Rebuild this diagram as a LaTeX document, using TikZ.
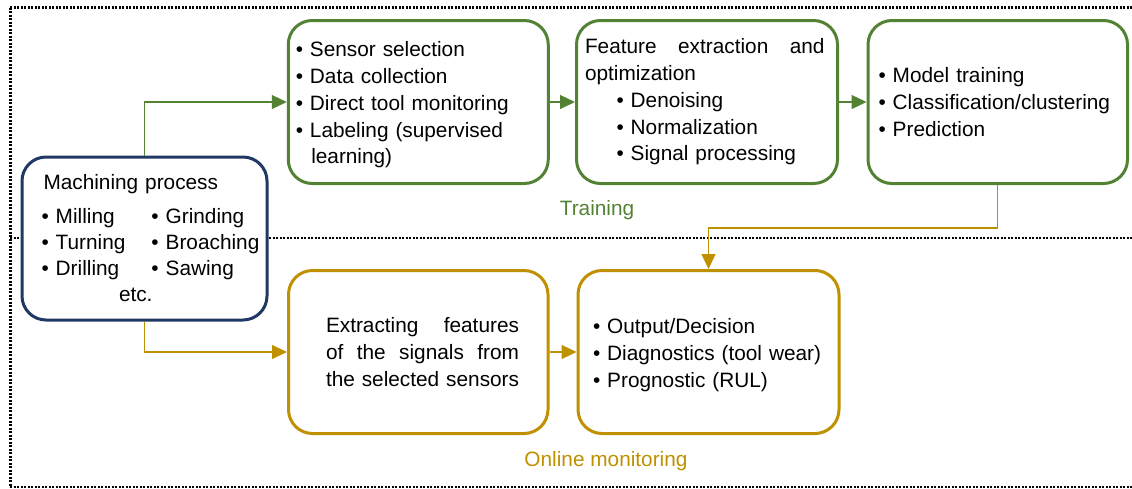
\documentclass[tikz,border=0pt]{standalone}
\usepackage{fontspec}
\setmainfont{Liberation Sans}
\usetikzlibrary{arrows.meta}
\definecolor{cgreen}{HTML}{548235}
\definecolor{cgold}{HTML}{BF9000}
\definecolor{cblue}{HTML}{203864}
\begin{document}
\begin{tikzpicture}[x=1pt,y=-1pt,
  every node/.style={font=\fontsize{20.8}{26.75}\selectfont},
  box/.style={draw, line width=3pt, rounded corners=24pt, fill=white,
    inner sep=0pt, align=left, anchor=center},
  conn/.style={line width=1.2pt, -{Triangle[length=15pt,width=14pt]}},
  frame/.style={line width=2.3pt, dash pattern=on 2.2pt off 1.3pt}]
\useasboundingbox (0,0) rectangle (1132,488);
% dotted frame
\draw[frame] (10,7.5) -- (1132,7.5);
\draw[frame] (10.5,7.5) -- (10.5,487);
\draw[frame] (10,487) -- (1132,487);
\draw[frame] (10,238) -- (1132,238);
% boxes
\node[box, draw=cblue, text width=245pt, minimum height=163pt,
  font=\fontsize{20.8}{26}\selectfont] (bl) at (144.5,238.5)
  {\hspace*{21.5pt}Machining process\\[8pt]
   \hspace*{19.5pt}\makebox[110pt][l]{• Milling}• Grinding\\
   \hspace*{19.5pt}\makebox[110pt][l]{• Turning}• Broaching\\
   \hspace*{19.5pt}\makebox[110pt][l]{• Drilling}• Sawing\\
   \hspace*{97pt}etc.};
\node[box, draw=cgreen, text width=260pt, minimum height=163pt] (m1) at (418.25,102)
  {\rule{0pt}{21pt}\hspace*{7.5pt}• Sensor selection\\
   \hspace*{7.5pt}• Data collection\\
   \hspace*{7.5pt}• Direct tool monitoring\\
   \hspace*{7.5pt}• Labeling (supervised\\
   \hspace*{23pt}learning)};
\node[box, draw=cgreen, text width=261pt, minimum height=163pt] (m2) at (707,102)
  {\hspace*{8.5pt}\hbox to 239.5pt{Feature\hfill extraction\hfill and}\\
   \hspace*{8.5pt}optimization\\
   \hspace*{40pt}• Denoising\\
   \hspace*{40pt}• Normalization\\
   \hspace*{40pt}• Signal processing};
\node[box, draw=cgreen, text width=259.5pt, minimum height=163pt] (m3) at (997.75,102)
  {\hspace*{10.5pt}• Model training\\
   \hspace*{10.5pt}• Classification/clustering\\
   \hspace*{10.5pt}• Prediction};
\node[box, draw=cgold, text width=259.5pt, minimum height=163pt] (o1) at (418.25,352)
  {\hspace*{37.5pt}\hbox to 193pt{Extracting\hfill features}\\
   \hspace*{37.5pt}\hbox to 193pt{of\hfill the\hfill signals\hfill from}\\
   \hspace*{37.5pt}the selected sensors};
\node[box, draw=cgold, text width=261pt, minimum height=163pt] (o2) at (708.5,352)
  {\rule{0pt}{21pt}\hspace*{15pt}• Output/Decision\\
   \hspace*{15pt}• Diagnostics (tool wear)\\
   \hspace*{15pt}• Prognostic (RUL)};
% labels
\node[text=cgreen] (tr) at (597,210) {Training};
\node[text=cgold] (om) at (606,461) {Online monitoring};
% connectors
\draw[conn, cgreen] (bl.north) |- (m1.west);
\draw[conn, cgreen] (m1.east) -- (m2.west);
\draw[conn, cgreen] (m2.east) -- (m3.west);
\coordinate (bend) at (0,228);
\draw[conn, cgold] (m3.south) -- (m3.south |- bend) -| (o2.north);
\draw[conn, cgold] (bl.south) |- (o1.west);
\draw[conn, cgold] (o1.east) -- (o2.west);
\end{tikzpicture}
\end{document}
